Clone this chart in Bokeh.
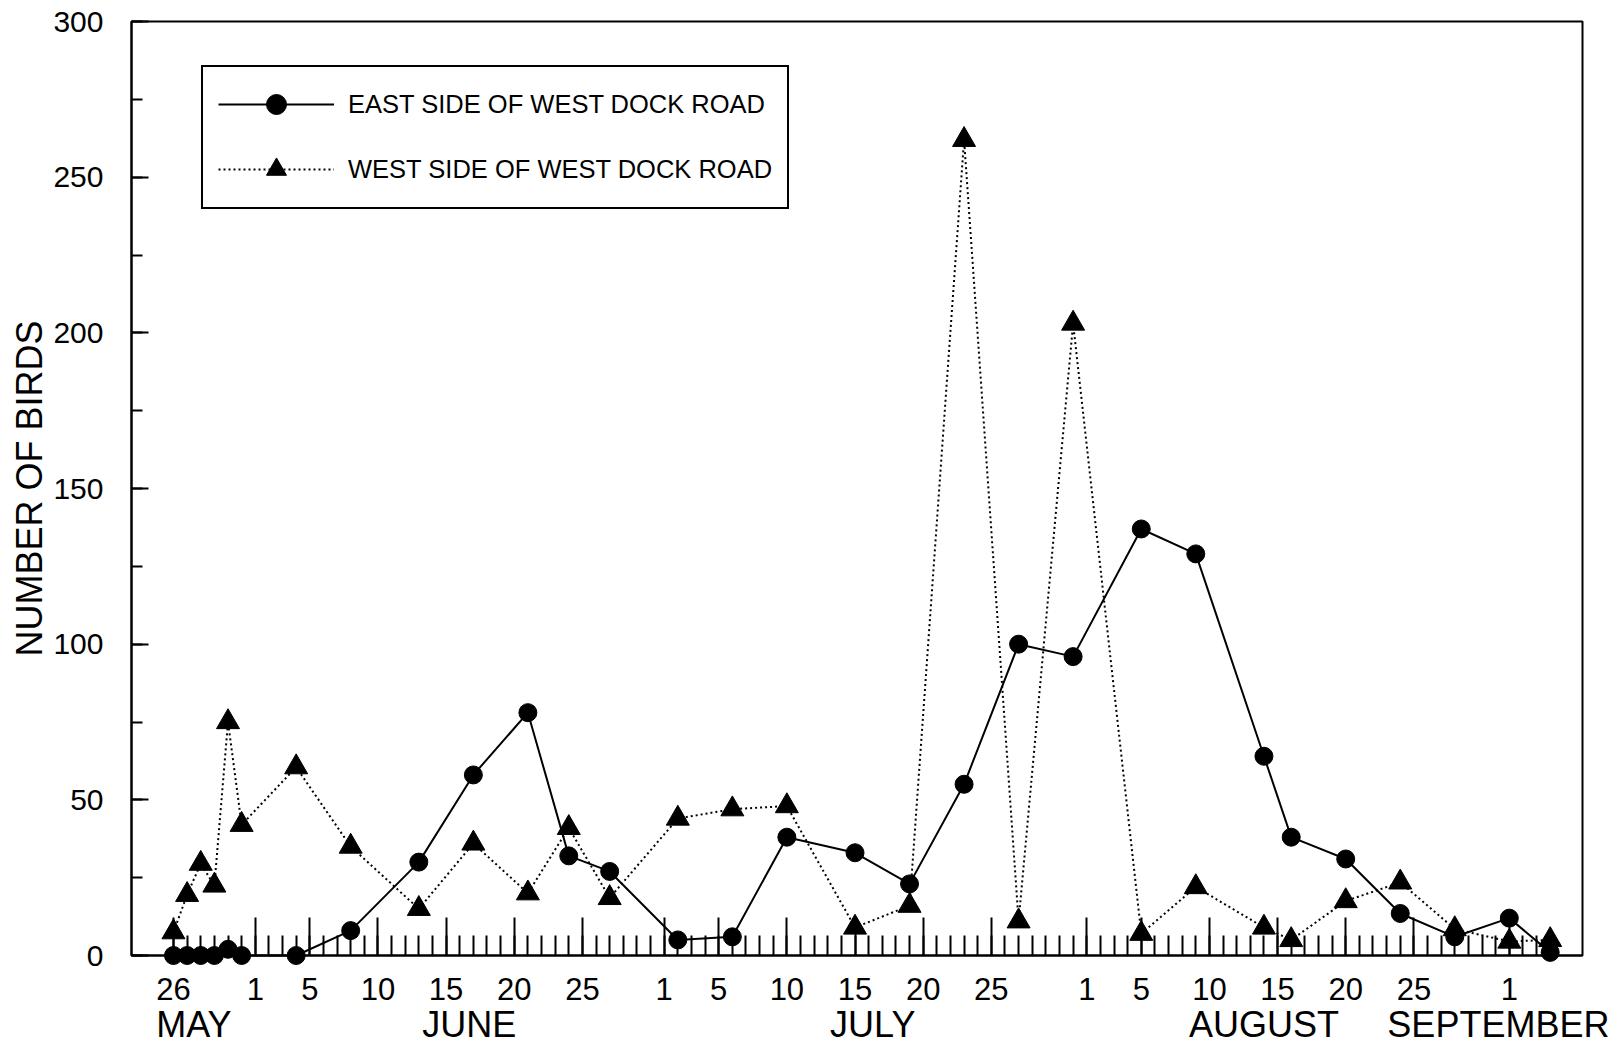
import datetime as dt
from bokeh.plotting import figure
from bokeh.models import (LinearAxis, FixedTicker, SingleIntervalTicker, Legend,
                          LegendItem, Range1d)
from bokeh.embed import file_html
from bokeh.resources import INLINE

# ---------------- data ----------------
YEAR = 2000
SEASON_START = (5, 26)

survey_dates = [(5, 26), (5, 27), (5, 28), (5, 29), (5, 30), (5, 31), (6, 4), (6, 8),
                (6, 13), (6, 17), (6, 21), (6, 24), (6, 27), (7, 2), (7, 6), (7, 10),
                (7, 15), (7, 19), (7, 23), (7, 27), (7, 31), (8, 5), (8, 9), (8, 14),
                (8, 16), (8, 20), (8, 24), (8, 28), (9, 1), (9, 4)]

east_birds = [0, 0, 0, 0, 2, 0, 0, 8, 30, 58, 78, 32, 27, 5, 6, 38, 33, 23, 55, 100,
              96, 137, 129, 64, 38, 31, 13.5, 6, 12, 1]

west_birds = [7.5, 19.5, 29.5, 22.5, 75, 42, 60.5, 35, 15, 36, 20, 41, 18.5, 44, 47,
              48, 9, 16, 262, 11, 203, 7, 22, 9, 5, 17.5, 23.5, 8.5, 4.5, 5]

major_tick_dates = [(5, 26), (6, 1), (6, 5), (6, 10), (6, 15), (6, 20), (6, 25),
                    (7, 1), (7, 5), (7, 10), (7, 15), (7, 20), (7, 25),
                    (8, 1), (8, 5), (8, 10), (8, 15), (8, 20), (8, 25), (9, 1)]
major_tick_labels = ["26", "1", "5", "10", "15", "20", "25",
                     "1", "5", "10", "15", "20", "25",
                     "1", "5", "10", "15", "20", "25", "1"]

month_names = ["MAY", "JUNE", "JULY", "AUGUST", "SEPTEMBER"]
month_label_days = [1.5, 21.7, 51.3, 80.0, 97.2]

legend_labels = ["EAST SIDE OF WEST DOCK ROAD", "WEST SIDE OF WEST DOCK ROAD"]
y_title = "NUMBER OF BIRDS"

# ---------------- helpers ----------------
start = dt.date(YEAR, *SEASON_START)


def day_of(md):
    return (dt.date(YEAR, *md) - start).days


days = [day_of(d) for d in survey_dates]
major_days = [day_of(d) for d in major_tick_dates]
minor_days = list(range(0, 102))

FONT = "Liberation Sans"

p = figure(width=1612, height=1053,
           x_range=Range1d(-3.08, 103.37), y_range=Range1d(0, 300),
           x_axis_type=None, y_axis_type=None,
           output_backend="svg", toolbar_location=None,
           min_border_left=131, min_border_right=30,
           min_border_top=21, min_border_bottom=98)
p.outline_line_color = "black"
p.outline_line_width = 2
p.outline_line_alpha = 1.0
p.background_fill_color = "white"
p.border_fill_color = "white"

# x axis (day numbers)
xaxis = LinearAxis(
    ticker=FixedTicker(ticks=major_days, minor_ticks=minor_days),
    major_label_overrides={d: lab for d, lab in zip(major_days, major_tick_labels)},
    major_tick_in=38, major_tick_out=0, minor_tick_in=20, minor_tick_out=0,
    major_tick_line_width=2, minor_tick_line_width=2, axis_line_width=2,
    major_tick_line_color="black", minor_tick_line_color="black",
    axis_line_color="black",
    major_label_standoff=22,
    major_label_text_font=FONT, major_label_text_font_size="31px",
    major_label_text_color="black",
)
p.add_layout(xaxis, "below")

# month names
month_axis = LinearAxis(
    ticker=FixedTicker(ticks=month_label_days, minor_ticks=[]),
    major_label_overrides={d: m for d, m in zip(month_label_days, month_names)},
    axis_line_color=None, major_tick_line_color=None, minor_tick_line_color=None,
    major_tick_in=0, major_tick_out=0, minor_tick_in=0, minor_tick_out=0,
    major_label_standoff=1,
    major_label_text_font=FONT, major_label_text_font_size="36px",
    major_label_text_color="black",
)
p.add_layout(month_axis, "below")

# y axis
yaxis = LinearAxis(
    ticker=SingleIntervalTicker(interval=50, num_minor_ticks=2),
    major_tick_in=17, major_tick_out=0, minor_tick_in=11, minor_tick_out=0,
    major_tick_line_width=2, minor_tick_line_width=2, axis_line_width=2,
    major_tick_line_color="black", minor_tick_line_color="black",
    axis_line_color="black",
    major_label_standoff=28,
    major_label_text_font=FONT, major_label_text_font_size="30px",
    major_label_text_color="black",
    axis_label=y_title, axis_label_standoff=0,
    axis_label_text_font=FONT, axis_label_text_font_size="36px",
    axis_label_text_font_style="normal", axis_label_text_color="black",
)
p.add_layout(yaxis, "left")

# series
east_line = p.line(days, east_birds, line_color="black", line_width=2, level="overlay")
east_pts = p.scatter(days, east_birds, marker="circle", size=18,
                     fill_color="black", line_color="black", level="overlay")
west_line = p.line(days, west_birds, line_color="black", line_width=2,
                   line_dash="2 3", level="overlay")
west_pts = p.scatter(days, west_birds, marker="triangle", size=23,
                     fill_color="black", line_color="black", level="overlay")

legend = Legend(
    items=[LegendItem(label=legend_labels[0], renderers=[east_line, east_pts]),
           LegendItem(label=legend_labels[1], renderers=[west_line, west_pts])],
    location=(70, 746), margin=0,
    padding=dict(left=15, right=15, top=12, bottom=13),
    spacing=15, glyph_width=116, glyph_height=50, label_height=50,
    label_standoff=14,
    label_text_font=FONT, label_text_font_size="25.5px", label_text_color="black",
    border_line_color="black", border_line_width=2, border_line_alpha=1.0,
    background_fill_color="white", background_fill_alpha=1.0,
)
p.add_layout(legend, "center")

open("out.html", "w").write(file_html(p, INLINE))
